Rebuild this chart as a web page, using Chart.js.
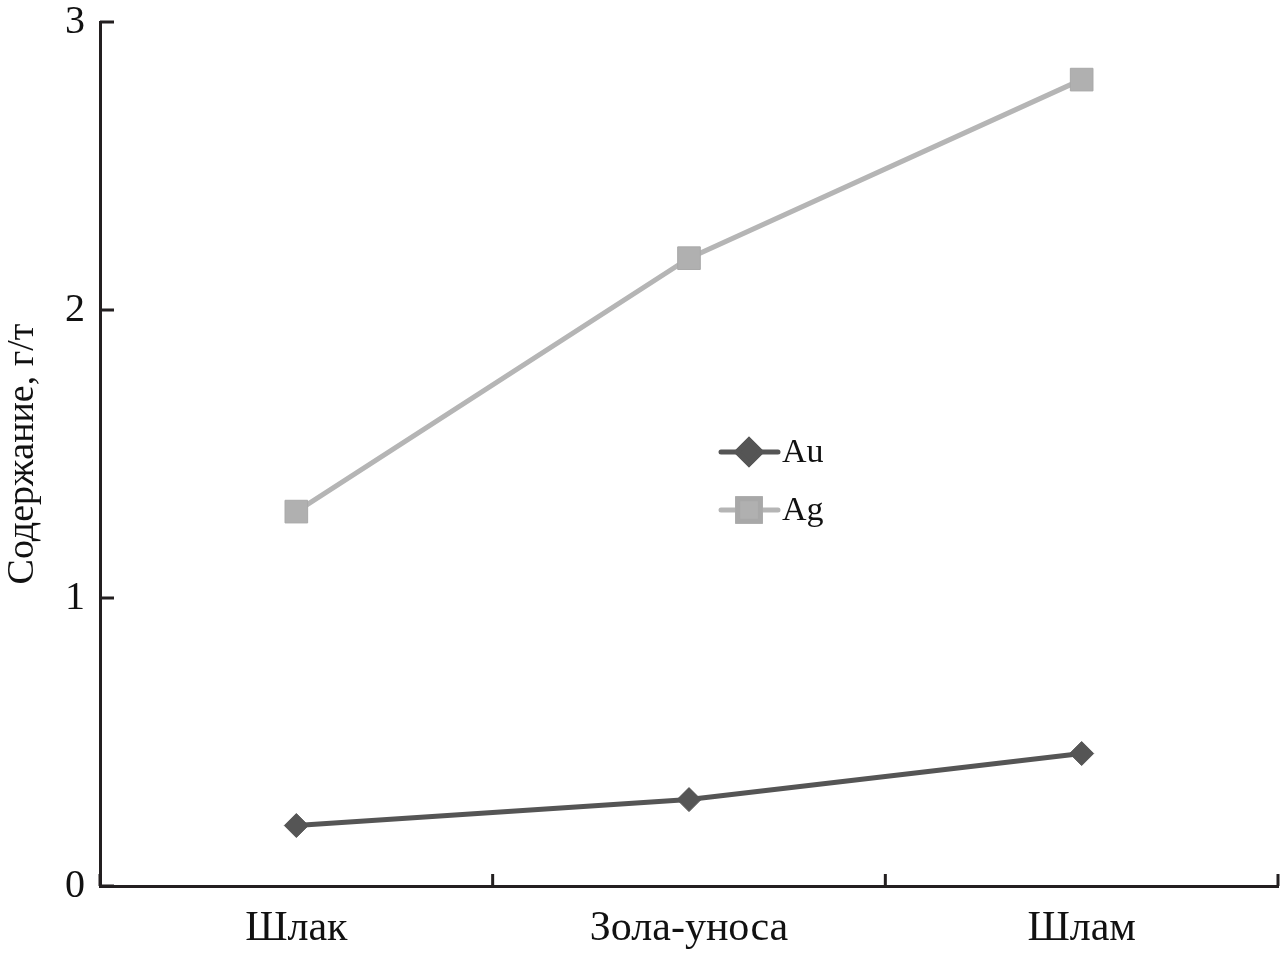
<!DOCTYPE html>
<html>
<head>
<meta charset="utf-8">
<script src="https://cdn.jsdelivr.net/npm/chart.js@4/dist/chart.umd.min.js"></script>
<style>
  html, body { margin: 0; padding: 0; background: #fff; overflow: hidden; }
  #wrap { width: 1284px; height: 953px; position: relative; }
  canvas { display: block; }
</style>
</head>
<body>
<div id="wrap"><canvas id="chart"></canvas></div>
<script>
const categories = ['Шлак', 'Зола-уноса', 'Шлам'];
const auValues = [0.21, 0.30, 0.46];
const agValues = [1.3, 2.18, 2.8];
const yTicks = [0, 1, 2, 3];

const serif = '"Liberation Serif", "DejaVu Serif", serif';
const axisColor = '#231f20';

// draws the short inward ticks and the in-plot legend
const decorations = {
    id: 'decorations',
    afterDraw(chart) {
        const ctx = chart.ctx;
        const x = chart.scales.x;
        const y = chart.scales.y;
        const area = chart.chartArea;
        ctx.save();
        ctx.strokeStyle = axisColor;
        ctx.lineWidth = 3;
        ctx.beginPath();
        yTicks.forEach(v => {
            const py = y.getPixelForValue(v);
            ctx.moveTo(area.left, py);
            ctx.lineTo(area.left + 14, py);
        });
        for (let i = 0; i <= categories.length; i++) {
            const px = x.getPixelForValue(i - 0.5);
            ctx.moveTo(px, area.bottom);
            ctx.lineTo(px, area.bottom - 12);
        }
        ctx.stroke();

        // legend
        const items = [
            { label: 'Au', ds: chart.data.datasets[0] },
            { label: 'Ag', ds: chart.data.datasets[1] }
        ];
        const lx = 721, ly = 452, gap = 58;
        items.forEach((it, i) => {
            const cy = ly + i * gap;
            ctx.strokeStyle = it.ds.borderColor;
            ctx.lineWidth = 5;
            ctx.lineCap = 'round';
            ctx.beginPath();
            ctx.moveTo(lx, cy);
            ctx.lineTo(lx + 57, cy);
            ctx.stroke();
            Chart.helpers.drawPoint(ctx, {
                pointStyle: it.ds.pointStyle,
                radius: it.ds.pointRadius,
                borderWidth: 1
            }, lx + 28, cy);
            ctx.fillStyle = it.ds.pointBackgroundColor;
            ctx.strokeStyle = it.ds.pointBorderColor;
            ctx.fill();
            ctx.stroke();
            ctx.fillStyle = '#111';
            ctx.font = '34px ' + serif;
            ctx.textBaseline = 'middle';
            ctx.fillText(it.label, lx + 61, cy + 1);
        });
        ctx.restore();
    }
};

new Chart(document.getElementById('chart'), {
    type: 'line',
    data: {
        labels: categories,
        datasets: [
            {
                label: 'Au',
                data: auValues,
                borderColor: '#555555',
                borderWidth: 5,
                pointStyle: 'rectRot',
                pointRadius: 12,
                pointBackgroundColor: '#555555',
                pointBorderColor: '#555555',
                pointBorderWidth: 1
            },
            {
                label: 'Ag',
                data: agValues,
                borderColor: '#b5b5b5',
                borderWidth: 5,
                pointStyle: 'rect',
                pointRadius: 16,
                pointBackgroundColor: '#b0b0b0',
                pointBorderColor: '#a8a8a8',
                pointBorderWidth: 1
            }
        ]
    },
    options: {
        responsive: true,
        maintainAspectRatio: false,
        animation: false,
        layout: { autoPadding: false, padding: { top: 22, right: 6, left: 0, bottom: 0 } },
        plugins: {
            legend: { display: false },
            tooltip: { enabled: false }
        },
        scales: {
            x: {
                offset: true,
                grid: { display: false, offset: true },
                border: { display: true, color: axisColor, width: 3 },
                ticks: {
                    color: '#111',
                    font: { family: serif, size: 42 },
                    padding: 10
                },
                afterFit(scale) {
                    scale.height = 67;
                    scale.paddingLeft = 0;
                    scale.paddingRight = 0;
                }
            },
            y: {
                min: 0,
                max: 3,
                grid: { display: false },
                border: { display: true, color: axisColor, width: 3 },
                ticks: {
                    stepSize: 1,
                    color: '#111',
                    font: { family: serif, size: 40 },
                    padding: 7,
                    callback: v => yTicks.includes(v) ? String(v) : ''
                },
                title: {
                    display: true,
                    text: 'Содержание, г/т',
                    color: '#111',
                    font: { family: serif, size: 38 },
                    padding: 0
                },
                afterFit(scale) {
                    scale.width = 100;
                    scale.paddingTop = 0;
                    scale.paddingBottom = 0;
                }
            }
        }
    },
    plugins: [decorations]
});
</script>
</body>
</html>
